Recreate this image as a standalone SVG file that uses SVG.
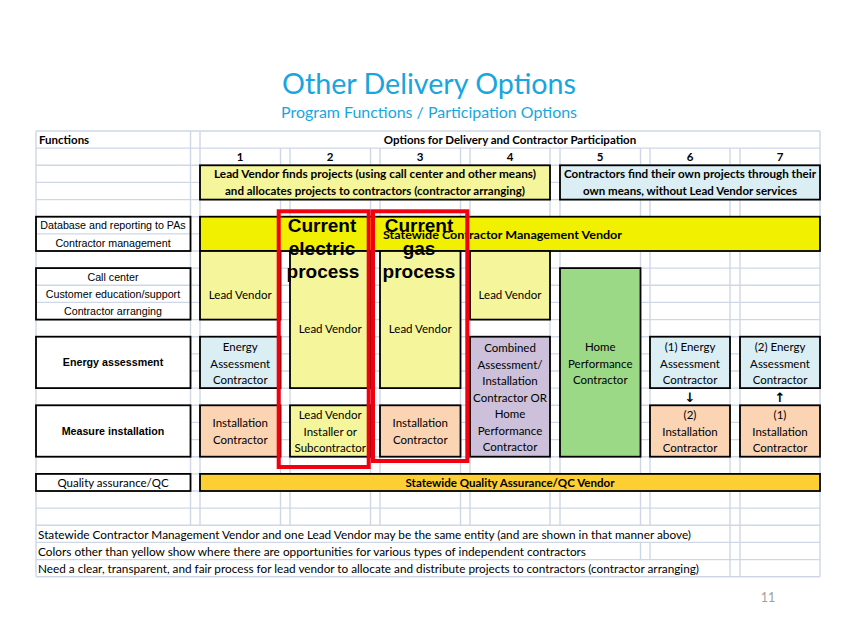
<svg xmlns="http://www.w3.org/2000/svg" width="856" height="635" viewBox="0 0 856 635">
<style>
.grid line{stroke:#CFD7E6;stroke-width:1.4}
.box{stroke:#000;stroke-width:1.8}
.fn{fill:none}
.ly{fill:#F5F59C}
.by{fill:#F0F000}
.lb{fill:#DAEEF3}
.pe{fill:#FBD4B4}
.lv{fill:#CCC0DA}
.gr{fill:#9BD987}
.or{fill:#FDCF33}
text{font-family:Lato,"Open Sans","DejaVu Sans",sans-serif;font-size:11.5px;fill:#000}
.c{text-anchor:middle}
.b{font-weight:bold}
.ar{font-family:"Liberation Sans",Arial,sans-serif;font-size:10.7px}
.big{font-family:"Liberation Sans",Arial,sans-serif;font-size:19px;font-weight:bold;text-anchor:middle}
.red{fill:none;stroke:#F2000F;stroke-width:4}
.arrow{font-family:"DejaVu Sans",sans-serif;font-size:13px;font-weight:bold;text-anchor:middle}
</style>
<rect width="856" height="635" fill="#fff"/>
<g id="title">
<text x="429" y="94" class="c" style="font-size:28px;fill:#17A6DF" textLength="294" lengthAdjust="spacingAndGlyphs">Other Delivery Options</text>
<text x="429" y="118" class="c" style="font-size:16px;fill:#17A6DF" textLength="296" lengthAdjust="spacingAndGlyphs">Program Functions / Participation Options</text>
</g>
<g class="grid">
<line x1="36" y1="131" x2="820" y2="131"/>
<line x1="36" y1="148.1" x2="820" y2="148.1"/>
<line x1="36" y1="165.3" x2="820" y2="165.3"/>
<line x1="36" y1="182.4" x2="820" y2="182.4"/>
<line x1="36" y1="199.6" x2="820" y2="199.6"/>
<line x1="36" y1="216.7" x2="820" y2="216.7"/>
<line x1="36" y1="233.9" x2="820" y2="233.9"/>
<line x1="36" y1="251" x2="820" y2="251"/>
<line x1="36" y1="268.1" x2="820" y2="268.1"/>
<line x1="36" y1="285.3" x2="820" y2="285.3"/>
<line x1="36" y1="302.4" x2="820" y2="302.4"/>
<line x1="36" y1="319.6" x2="820" y2="319.6"/>
<line x1="36" y1="336.7" x2="820" y2="336.7"/>
<line x1="36" y1="353.9" x2="820" y2="353.9"/>
<line x1="36" y1="371" x2="820" y2="371"/>
<line x1="36" y1="388.1" x2="820" y2="388.1"/>
<line x1="36" y1="405.3" x2="820" y2="405.3"/>
<line x1="36" y1="422.4" x2="820" y2="422.4"/>
<line x1="36" y1="439.6" x2="820" y2="439.6"/>
<line x1="36" y1="456.7" x2="820" y2="456.7"/>
<line x1="36" y1="473.9" x2="820" y2="473.9"/>
<line x1="36" y1="491" x2="820" y2="491"/>
<line x1="36" y1="508.1" x2="820" y2="508.1"/>
<line x1="36" y1="525.3" x2="820" y2="525.3"/>
<line x1="36" y1="542.4" x2="820" y2="542.4"/>
<line x1="36" y1="559.6" x2="820" y2="559.6"/>
<line x1="36" y1="576.7" x2="820" y2="576.7"/>
<line x1="36" y1="131" x2="36" y2="576.7"/>
<line x1="820" y1="131" x2="820" y2="576.7"/>
<line x1="190.5" y1="131" x2="190.5" y2="525.3"/>
<line x1="200" y1="131" x2="200" y2="525.3"/>
<line x1="280.5" y1="148.1" x2="280.5" y2="525.3"/>
<line x1="290" y1="148.1" x2="290" y2="525.3"/>
<line x1="370.5" y1="148.1" x2="370.5" y2="525.3"/>
<line x1="380" y1="148.1" x2="380" y2="525.3"/>
<line x1="460.5" y1="148.1" x2="460.5" y2="525.3"/>
<line x1="470" y1="148.1" x2="470" y2="525.3"/>
<line x1="550" y1="148.1" x2="550" y2="525.3"/>
<line x1="560" y1="148.1" x2="560" y2="525.3"/>
<line x1="640.5" y1="148.1" x2="640.5" y2="525.3"/>
<line x1="650" y1="148.1" x2="650" y2="525.3"/>
<line x1="640.5" y1="542.4" x2="640.5" y2="559.6"/>
<line x1="650" y1="542.4" x2="650" y2="559.6"/>
<line x1="730" y1="148.1" x2="730" y2="576.7"/>
<line x1="740" y1="148.1" x2="740" y2="576.7"/>
</g>
<g id="header">
<text x="39" y="144" class="b">Functions</text>
<text x="510" y="144" class="c b">Options for Delivery and Contractor Participation</text>
<text x="240" y="161" class="c b">1</text>
<text x="330" y="161" class="c b">2</text>
<text x="420" y="161" class="c b">3</text>
<text x="510" y="161" class="c b">4</text>
<text x="600" y="161" class="c b">5</text>
<text x="690" y="161" class="c b">6</text>
<text x="780" y="161" class="c b">7</text>
</g>
<g id="fn-database">
<rect class="box fn" x="36" y="216.7" width="154.5" height="34.3"/>
<text x="113" y="229" class="c ar">Database and reporting to PAs</text>
<text x="113" y="246.5" class="c ar">Contractor management</text>
</g>
<g id="fn-callcenter">
<rect class="box fn" x="36" y="268.1" width="154.5" height="51.5"/>
<text x="113" y="280.5" class="c ar">Call center</text>
<text x="113" y="297.5" class="c ar">Customer education/support</text>
<text x="113" y="314.5" class="c ar">Contractor arranging</text>
</g>
<g id="fn-energy">
<rect class="box" fill="#fff" x="36" y="336.7" width="154.5" height="51.4"/>
<text x="113" y="366" class="c ar b">Energy assessment</text>
</g>
<g id="fn-measure">
<rect class="box" fill="#fff" x="36" y="405.3" width="154.5" height="51.4"/>
<text x="113" y="435" class="c ar b">Measure installation</text>
</g>
<g id="fn-qc">
<rect class="box" fill="#fff" x="36" y="473.9" width="154.5" height="17.1"/>
<text x="113" y="486.5" class="c">Quality assurance/QC</text>
</g>
<g id="lead-vendor-finds">
<rect class="box ly" x="200" y="165.3" width="350" height="34.3"/>
<text x="375" y="178" class="c b" textLength="322" lengthAdjust="spacingAndGlyphs">Lead Vendor finds projects (using call center and other means)</text>
<text x="375" y="195" class="c b" textLength="300" lengthAdjust="spacingAndGlyphs">and allocates projects to contractors (contractor arranging)</text>
</g>
<g id="contractors-find">
<rect class="box lb" x="560" y="165.3" width="260" height="34.3"/>
<text x="690" y="178" class="c b" textLength="252" lengthAdjust="spacingAndGlyphs">Contractors find their own projects through their</text>
<text x="690" y="195" class="c b" textLength="214" lengthAdjust="spacingAndGlyphs">own means, without Lead Vendor services</text>
</g>
<g id="statewide-cm">
<rect class="box by" x="200" y="216.7" width="620" height="34.3"/>
<text x="502.5" y="238.5" class="c b" textLength="239" lengthAdjust="spacingAndGlyphs">Statewide Contractor Management Vendor</text>
</g>
<g id="c1-lead">
<rect class="box ly" x="200" y="251" width="80.5" height="68.6"/>
<text x="240.25" y="299" class="c">Lead Vendor</text>
</g>
<g id="c1-energy">
<rect class="box lb" x="200" y="336.7" width="80.5" height="51.4"/>
<text x="240.25" y="351" class="c">Energy</text>
<text x="240.25" y="367.5" class="c">Assessment</text>
<text x="240.25" y="384" class="c">Contractor</text>
</g>
<g id="c1-install">
<rect class="box pe" x="200" y="405.3" width="80.5" height="51.4"/>
<text x="240.25" y="427" class="c">Installation</text>
<text x="240.25" y="444" class="c">Contractor</text>
</g>
<g id="c2-lead">
<rect class="box ly" x="290" y="251" width="80.5" height="137.1"/>
<text x="330.25" y="333" class="c">Lead Vendor</text>
</g>
<g id="c2-install">
<rect class="box ly" x="290" y="405.3" width="80.5" height="51.4"/>
<text x="330.25" y="419" class="c">Lead Vendor</text>
<text x="330.25" y="435.5" class="c">Installer or</text>
<text x="330.25" y="452" class="c">Subcontractor</text>
</g>
<g id="c3-lead">
<rect class="box ly" x="380" y="251" width="80.5" height="137.1"/>
<text x="420.25" y="333" class="c">Lead Vendor</text>
</g>
<g id="c3-install">
<rect class="box pe" x="380" y="405.3" width="80.5" height="51.4"/>
<text x="420.25" y="427" class="c">Installation</text>
<text x="420.25" y="444" class="c">Contractor</text>
</g>
<g id="c4-lead">
<rect class="box ly" x="470" y="251" width="80" height="68.6"/>
<text x="510" y="299" class="c">Lead Vendor</text>
</g>
<g id="c4-combined">
<rect class="box lv" x="470" y="336.7" width="80" height="120"/>
<text x="510" y="352" class="c">Combined</text>
<text x="510" y="368.5" class="c">Assessment/</text>
<text x="510" y="385" class="c">Installation</text>
<text x="510" y="401.5" class="c">Contractor OR</text>
<text x="510" y="418" class="c">Home</text>
<text x="510" y="434.5" class="c">Performance</text>
<text x="510" y="451" class="c">Contractor</text>
</g>
<g id="c5-hpc">
<rect class="box gr" x="560" y="268.1" width="80.5" height="188.6"/>
<text x="600.25" y="351" class="c">Home</text>
<text x="600.25" y="367.5" class="c">Performance</text>
<text x="600.25" y="384" class="c">Contractor</text>
</g>
<g id="c6-energy">
<rect class="box lb" x="650" y="336.7" width="80" height="51.4"/>
<text x="690" y="351" class="c">(1) Energy</text>
<text x="690" y="367.5" class="c">Assessment</text>
<text x="690" y="384" class="c">Contractor</text>
</g>
<g id="c6-install">
<rect class="box pe" x="650" y="405.3" width="80" height="51.4"/>
<text x="690" y="419" class="c">(2)</text>
<text x="690" y="435.5" class="c">Installation</text>
<text x="690" y="452" class="c">Contractor</text>
</g>
<g id="c7-energy">
<rect class="box lb" x="740" y="336.7" width="80" height="51.4"/>
<text x="780" y="351" class="c">(2) Energy</text>
<text x="780" y="367.5" class="c">Assessment</text>
<text x="780" y="384" class="c">Contractor</text>
</g>
<g id="c7-install">
<rect class="box pe" x="740" y="405.3" width="80" height="51.4"/>
<text x="780" y="419" class="c">(1)</text>
<text x="780" y="435.5" class="c">Installation</text>
<text x="780" y="452" class="c">Contractor</text>
</g>
<g id="connectors">
<text x="690" y="402" class="arrow">↓</text>
<text x="780" y="402" class="arrow">↑</text>
</g>
<g id="statewide-qa">
<rect class="box or" x="200" y="473.9" width="620" height="17.1"/>
<text x="510" y="486.5" class="c b" textLength="209" lengthAdjust="spacingAndGlyphs">Statewide Quality Assurance/QC Vendor</text>
</g>
<g id="notes">
<text x="38" y="538.5" textLength="653" lengthAdjust="spacingAndGlyphs">Statewide Contractor Management Vendor and one Lead Vendor may be the same entity (and are shown in that manner above)</text>
<text x="38" y="555.5" textLength="548" lengthAdjust="spacingAndGlyphs">Colors other than yellow show where there are opportunities for various types of independent contractors</text>
<text x="38" y="572.5" textLength="661" lengthAdjust="spacingAndGlyphs">Need a clear, transparent, and fair process for lead vendor to allocate and distribute projects to contractors (contractor arranging)</text>
</g>
<g id="current-electric">
<rect class="red" x="278.7" y="211.3" width="90" height="255.7"/>
<text x="322" y="232" class="big">Current</text>
<text x="322" y="255" class="big">electric</text>
<text x="323" y="278" class="big">process</text>
</g>
<g id="current-gas">
<rect class="red" x="373" y="211.3" width="94.3" height="249.7"/>
<text x="419" y="232" class="big">Current</text>
<text x="419" y="255" class="big">gas</text>
<text x="419" y="278" class="big">process</text>
</g>
<text x="768" y="602" class="c" style="font-size:12.5px;fill:#A0A0A0">11</text>
</svg>
